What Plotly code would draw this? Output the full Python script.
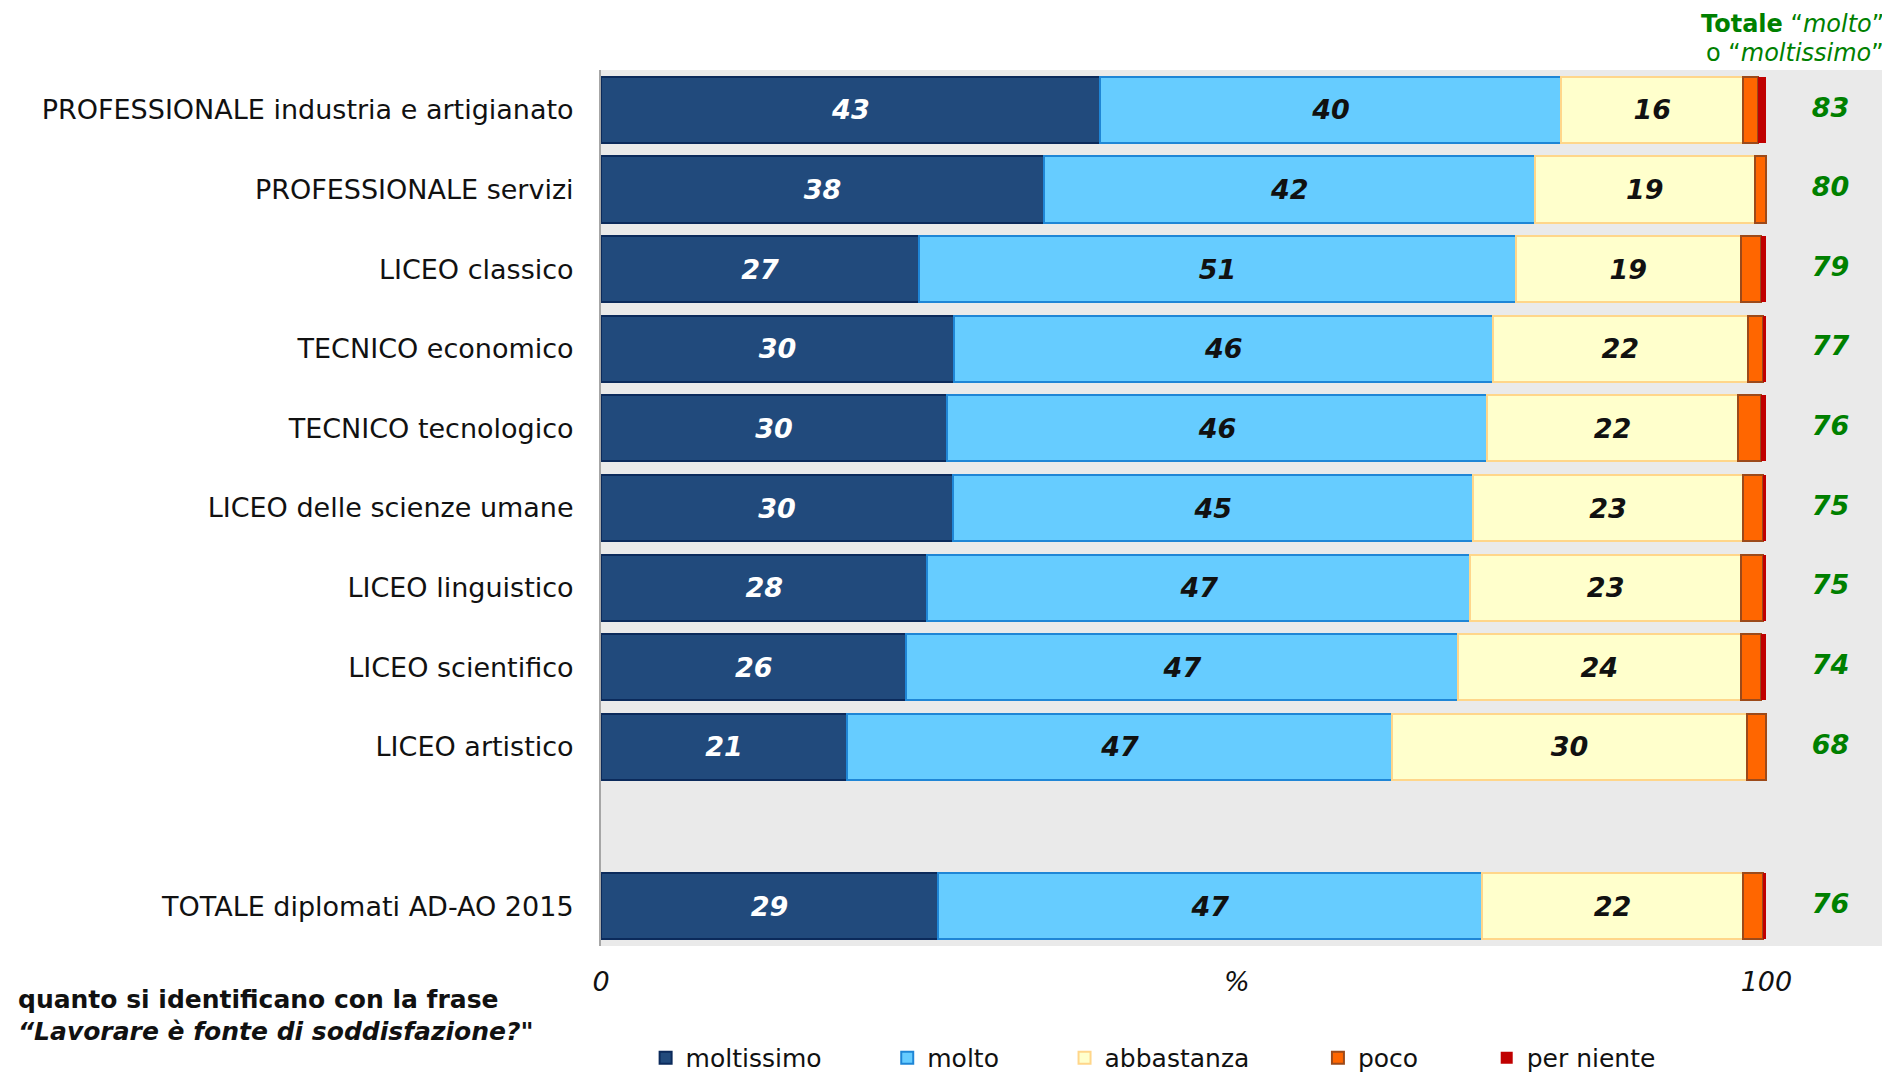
import plotly.graph_objects as go

categories = [
    "PROFESSIONALE industria e artigianato",
    "PROFESSIONALE servizi",
    "LICEO classico",
    "TECNICO economico",
    "TECNICO tecnologico",
    "LICEO delle scienze umane",
    "LICEO linguistico",
    "LICEO scientifico",
    "LICEO artistico",
    " ",
    "TOTALE diplomati AD-AO 2015",
]

moltissimo = [42.8, 38.0, 27.3, 30.3, 29.7, 30.2, 28.0, 26.2, 21.1, None, 28.9]
molto      = [39.6, 42.1, 51.2, 46.2, 46.3, 44.6, 46.6, 47.3, 46.8, None, 46.7]
abbastanza = [15.6, 18.9, 19.3, 21.9, 21.6, 23.2, 23.2, 24.3, 30.4, None, 22.4]
poco       = [1.3, 1.0, 1.7, 1.3, 1.9, 1.7, 1.9, 1.7, 1.7, None, 1.7]
per_niente = [0.7, 0.0, 0.5, 0.3, 0.5, 0.3, 0.3, 0.5, 0.0, None, 0.3]
totale     = ["83", "80", "79", "77", "76", "75", "75", "74", "68", "", "76"]

series_names = ["moltissimo", "molto", "abbastanza", "poco", "per niente"]
x_ticks = [0, 100]
x_tick_labels = ["0", "100"]

FONT = "DejaVu Sans, Verdana, sans-serif"
fills = ["#214A7C", "#66CCFF", "#FFFFCC", "#FF6600", "#C00000"]
edges = ["#0B2A5B", "#1F86D6", "#FFD68A", "#9C4A1A", "#C00000"]
edge_w = [2, 2, 2, 2, 0]
txt_col = ["white", "#111111", "#111111", None, None]
NB, TH = "\u00a0", "\u2009"
pads = [NB * 7 + TH, NB * 7 + TH, NB * 8, NB * 8, ""]

fig = go.Figure()
for i, vals in enumerate([moltissimo, molto, abbastanza, poco, per_niente]):
    show_text = txt_col[i] is not None
    fig.add_trace(go.Bar(
        y=categories, x=vals, orientation="h",
        name=series_names[i] + pads[i],
        marker=dict(color=fills[i], line=dict(color=edges[i], width=edge_w[i])),
        texttemplate="<b><i>%{x:.0f}</i></b>" if show_text else None,
        textposition="inside" if show_text else "none",
        insidetextanchor="middle",
        textangle=0,
        constraintext="none",
        textfont=dict(family=FONT, size=27, color=txt_col[i] or "black"),
        hoverinfo="x+y",
    ))

fig.add_trace(go.Scatter(
    y=categories, x=[105.5] * len(categories), mode="text",
    text=["<b><i>%s</i></b>" % t for t in totale],
    textfont=dict(family=FONT, size=27, color="#008000"),
    showlegend=False, cliponaxis=False, hoverinfo="skip",
))

fig.update_layout(
    barmode="stack",
    bargap=0.17,
    width=1882, height=1065,
    margin=dict(l=593, r=7, t=62, b=127, autoexpand=False),
    paper_bgcolor="white",
    plot_bgcolor="#EAEAEA",
    font=dict(family=FONT, color="#111111"),
    showlegend=True,
    legend=dict(
        orientation="h", xref="container", yref="container",
        x=0.3388, xanchor="left", y=0.0141, yanchor="middle",
        font=dict(family=FONT, size=25, color="#111111"),
        traceorder="normal",
    ),
    xaxis=dict(
        range=[0, 110], tickvals=x_ticks, ticktext=x_tick_labels,
        showgrid=False, zeroline=False, ticks="",
        tickfont=dict(family=FONT, size=27, color="#111111", style="italic"),
        ticklabelstandoff=17,
    ),
    yaxis=dict(
        range=[len(categories) - 0.5, -0.5], autorange=False,
        categoryorder="array", categoryarray=categories,
        showgrid=False, ticks="", showline=True, linecolor="#A6A6A6", linewidth=2,
        tickfont=dict(family=FONT, size=27, color="#111111"),
        ticklabelstandoff=20,
    ),
    annotations=[
        dict(xref="x domain", yref="paper", x=0.496, y=-0.041, yanchor="middle",
             text="<i>%</i>", showarrow=False,
             font=dict(family=FONT, size=27, color="#111111")),
        dict(xref="paper", yref="paper", x=1.0023, xanchor="right", y=1.0525, yanchor="middle",
             text="<b>Totale</b> \u201c<i>molto</i>\u201d", showarrow=False,
             font=dict(family=FONT, size=24, color="#008000")),
        dict(xref="paper", yref="paper", x=1.0023, xanchor="right", y=1.0194, yanchor="middle",
             text="o \u201c<i>moltissimo</i>\u201d", showarrow=False,
             font=dict(family=FONT, size=24, color="#008000")),
        dict(xref="paper", yref="paper", x=-0.4563, xanchor="left", y=-0.0616, yanchor="middle",
             text="<b>quanto si identificano con la frase</b>", showarrow=False,
             font=dict(family=FONT, size=25, color="#111111")),
        dict(xref="paper", yref="paper", x=-0.4563, xanchor="left", y=-0.098, yanchor="middle",
             text="<b><i>\u201cLavorare \u00e8 fonte di soddisfazione?\"</i></b>", showarrow=False,
             font=dict(family=FONT, size=25, color="#111111")),
    ],
)

fig.write_html("out.html")
